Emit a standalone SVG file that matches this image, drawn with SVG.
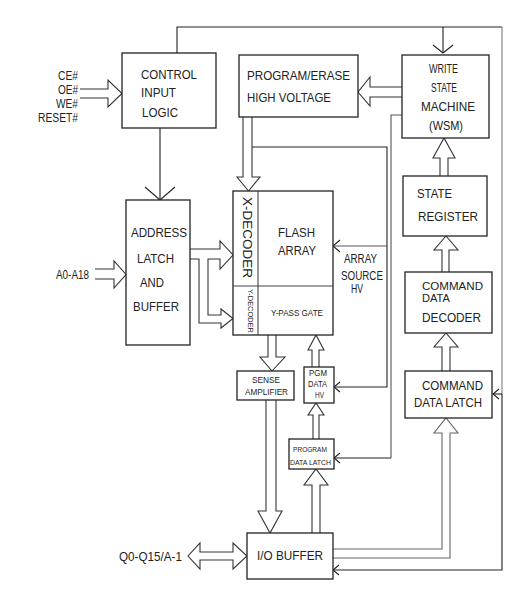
<svg xmlns="http://www.w3.org/2000/svg" width="529" height="589" viewBox="0 0 529 589">
<style>
.box{fill:#fff;stroke:#222;stroke-width:1.3}
.wa{fill:#fff;stroke:#333;stroke-width:1.1;stroke-linejoin:miter}
.ln{fill:none;stroke:#222;stroke-width:1.1}
.lg{fill:none;stroke:#888;stroke-width:1.2}
.lm{fill:none;stroke:#555;stroke-width:1.1}
.ch{fill:none;stroke:#222;stroke-width:1.1}
text{font-family:"Liberation Sans",Arial,sans-serif;fill:#222;font-size:13.5px}
.sig{font-size:12px}
.s12{font-size:12.5px}
.s11{font-size:11px}
.s8{font-size:8.5px}
.s7{font-size:7.5px}
</style>
<rect width="529" height="589" fill="#fff"/>

<g id="connectors">
  <path class="ln" d="M160,128 V200"/>
  <path class="ch" d="M145,187 L160,200 L175,187"/>
  <path class="ln" d="M177,53 V27 H502"/>
  <path class="lg" d="M502,27 V394"/>
  <path class="ln" d="M443,27 V53"/>
  <path class="ch" d="M433,45 L443,53 L453,45"/>
  <path class="ln" d="M502,394 H493"/>
  <path class="ch" d="M499,389 L493,394 L499,399"/>
  <path class="ln" d="M502,394 V570 H333"/>
  <path class="ch" d="M339,565 L333,570 L339,575"/>
  <path class="lm" d="M402,115 H391 V458"/>
  <path class="ln" d="M391,458 H334"/>
  <path class="ch" d="M340,453 L334,458 L340,463"/>
  <path class="ln" d="M252,147 H387 V387 H334"/>
  <path class="ch" d="M340,382 L334,387 L340,392"/>
  <path class="lm" d="M387,246 H333"/>
  <path class="ch" d="M340,240 L333,246 L340,252"/>

  <path class="wa" d="M80,89 H108 V80 L122,93.5 L108,107 V98 H80"/>
  <path class="wa" d="M95,269 H114 V261 L126,274.5 L114,288 V279 H95"/>
  <path class="wa" d="M190,249 H220 V241 L233,255 L220,269 V259 H208 V315 H221 V309 L233,318.5 L221,328 V323 H199 V259 H190"/>
  <path class="wa" d="M243,117 V177 H237 L248.5,191 L260,177 H252 V117"/>
  <path class="wa" d="M268,335 V357 H260 L272,371 L285,357 H276 V335"/>
  <path class="wa" d="M312,367 V350 H308 L316,335 L324,350 H319 V367"/>
  <path class="wa" d="M313,439 V415 H308 L316,403 L324,415 H319 V439"/>
  <path class="wa" d="M312,533 V485 H304 L316,469 L328,485 H320 V533"/>
  <path class="wa" d="M266,400 V511 H258 L270,533 L282,511 H276 V400"/>
  <path class="wa" d="M200,552 H233 V543 L247,556 L233,569 V560 H200 V569 L188,556 L200,543 Z"/>
  <path class="wa" d="M402,87 H370 V77 L358,92 L370,106 V97 H402"/>
  <path class="wa" d="M440,176 V158 H433 L444,138 L455,158 H448 V176"/>
  <path class="wa" d="M442,272 V250 H434 L446,236 L458,250 H449 V272"/>
  <path class="wa" d="M442,371 V347 H434 L446,333 L458,347 H450 V371"/>
  <path class="wa" d="M333,549 H442 V433 H434 L446,418 L458,433 H450 V558 H333" style="stroke:#666"/>
</g>

<g id="signals">
  <text class="sig" x="78" y="80" text-anchor="end" textLength="20" lengthAdjust="spacingAndGlyphs">CE#</text>
  <text class="sig" x="78" y="94" text-anchor="end" textLength="20" lengthAdjust="spacingAndGlyphs">OE#</text>
  <text class="sig" x="78" y="108" text-anchor="end" textLength="22" lengthAdjust="spacingAndGlyphs">WE#</text>
  <text class="sig" x="78" y="122" text-anchor="end" textLength="40" lengthAdjust="spacingAndGlyphs">RESET#</text>
  <text x="56" y="279" textLength="33" lengthAdjust="spacingAndGlyphs">A0-A18</text>
  <text x="119" y="561" textLength="63" lengthAdjust="spacingAndGlyphs">Q0-Q15/A-1</text>
</g>

<g id="control-input-logic">
  <rect class="box" x="122" y="53" width="94" height="75"/>
  <text x="141" y="79" textLength="56" lengthAdjust="spacingAndGlyphs">CONTROL</text>
  <text x="141" y="97" textLength="35" lengthAdjust="spacingAndGlyphs">INPUT</text>
  <text x="142" y="117" textLength="36" lengthAdjust="spacingAndGlyphs">LOGIC</text>
</g>

<g id="program-erase-hv">
  <rect class="box" x="239" y="55" width="119" height="62"/>
  <text x="247" y="80" textLength="103" lengthAdjust="spacingAndGlyphs">PROGRAM/ERASE</text>
  <text x="247" y="102" textLength="84" lengthAdjust="spacingAndGlyphs">HIGH VOLTAGE</text>
</g>

<g id="wsm">
  <rect class="box" x="402" y="55" width="87" height="83"/>
  <text x="429" y="73" textLength="29" lengthAdjust="spacingAndGlyphs">WRITE</text>
  <text x="431" y="92" textLength="26" lengthAdjust="spacingAndGlyphs">STATE</text>
  <text x="421" y="111" textLength="54" lengthAdjust="spacingAndGlyphs">MACHINE</text>
  <text x="429" y="130" textLength="34" lengthAdjust="spacingAndGlyphs">(WSM)</text>
</g>

<g id="address-latch">
  <rect class="box" x="126" y="200" width="64" height="145"/>
  <text x="131" y="237" textLength="56" lengthAdjust="spacingAndGlyphs">ADDRESS</text>
  <text x="137" y="263" textLength="37" lengthAdjust="spacingAndGlyphs">LATCH</text>
  <text x="140" y="287" textLength="24" lengthAdjust="spacingAndGlyphs">AND</text>
  <text x="133" y="311" textLength="46" lengthAdjust="spacingAndGlyphs">BUFFER</text>
</g>

<g id="flash-array">
  <rect class="box" x="233" y="191" width="100" height="144"/>
  <path class="ln" d="M258,191 V335 M233,286 H333" style="stroke:#444"/>
  <text transform="translate(243,197) rotate(90)" x="0" y="0" style="font-size:13.5px" textLength="81" lengthAdjust="spacingAndGlyphs">X-DECODER</text>
  <text transform="translate(248,289) rotate(90)" x="0" y="0" style="font-size:6.5px" textLength="44" lengthAdjust="spacingAndGlyphs">Y-DECODER</text>
  <text class="s12" x="278" y="237" textLength="37" lengthAdjust="spacingAndGlyphs">FLASH</text>
  <text class="s12" x="278" y="255" textLength="38" lengthAdjust="spacingAndGlyphs">ARRAY</text>
  <text class="s8" x="271" y="316" textLength="52" lengthAdjust="spacingAndGlyphs">Y-PASS GATE</text>
</g>

<g id="array-source-hv">
  <text class="s12" x="344" y="263" textLength="33" lengthAdjust="spacingAndGlyphs">ARRAY</text>
  <text class="s12" x="341" y="280" textLength="42" lengthAdjust="spacingAndGlyphs">SOURCE</text>
  <text class="s12" x="351" y="293" textLength="12" lengthAdjust="spacingAndGlyphs">HV</text>
</g>

<g id="sense-amplifier">
  <rect class="box" x="237" y="371" width="57" height="29"/>
  <text class="s8" x="252" y="383" textLength="28" lengthAdjust="spacingAndGlyphs">SENSE</text>
  <text class="s8" x="245" y="395" textLength="43" lengthAdjust="spacingAndGlyphs">AMPLIFIER</text>
</g>

<g id="pgm-data-hv">
  <rect class="box" x="304" y="367" width="30" height="36"/>
  <text class="s8" x="309" y="376" textLength="18" lengthAdjust="spacingAndGlyphs">PGM</text>
  <text class="s8" x="308" y="387" textLength="19" lengthAdjust="spacingAndGlyphs">DATA</text>
  <text class="s8" x="315" y="398" textLength="9" lengthAdjust="spacingAndGlyphs">HV</text>
</g>

<g id="program-data-latch">
  <rect class="box" x="289" y="439" width="45" height="30"/>
  <text class="s7" x="293" y="452" textLength="34" lengthAdjust="spacingAndGlyphs">PROGRAM</text>
  <text class="s7" x="290" y="465" textLength="41" lengthAdjust="spacingAndGlyphs">DATA LATCH</text>
</g>

<g id="io-buffer">
  <rect class="box" x="247" y="533" width="86" height="46"/>
  <text x="257" y="560" textLength="66" lengthAdjust="spacingAndGlyphs">I/O BUFFER</text>
</g>

<g id="state-register">
  <rect class="box" x="403" y="176" width="84" height="60"/>
  <text x="417" y="198" textLength="35" lengthAdjust="spacingAndGlyphs">STATE</text>
  <text x="418" y="221" textLength="60" lengthAdjust="spacingAndGlyphs">REGISTER</text>
</g>

<g id="command-data-decoder">
  <rect class="box" x="405" y="272" width="87" height="61"/>
  <text class="s11" x="422" y="289.5" textLength="61" lengthAdjust="spacingAndGlyphs">COMMAND</text>
  <text class="s11" x="422" y="302" textLength="28" lengthAdjust="spacingAndGlyphs">DATA</text>
  <text x="422" y="322" textLength="59" lengthAdjust="spacingAndGlyphs">DECODER</text>
</g>

<g id="command-data-latch">
  <rect class="box" x="405" y="371" width="87" height="47"/>
  <text x="422" y="390" textLength="61" lengthAdjust="spacingAndGlyphs">COMMAND</text>
  <text x="414" y="407" textLength="68" lengthAdjust="spacingAndGlyphs">DATA LATCH</text>
</g>
</svg>
